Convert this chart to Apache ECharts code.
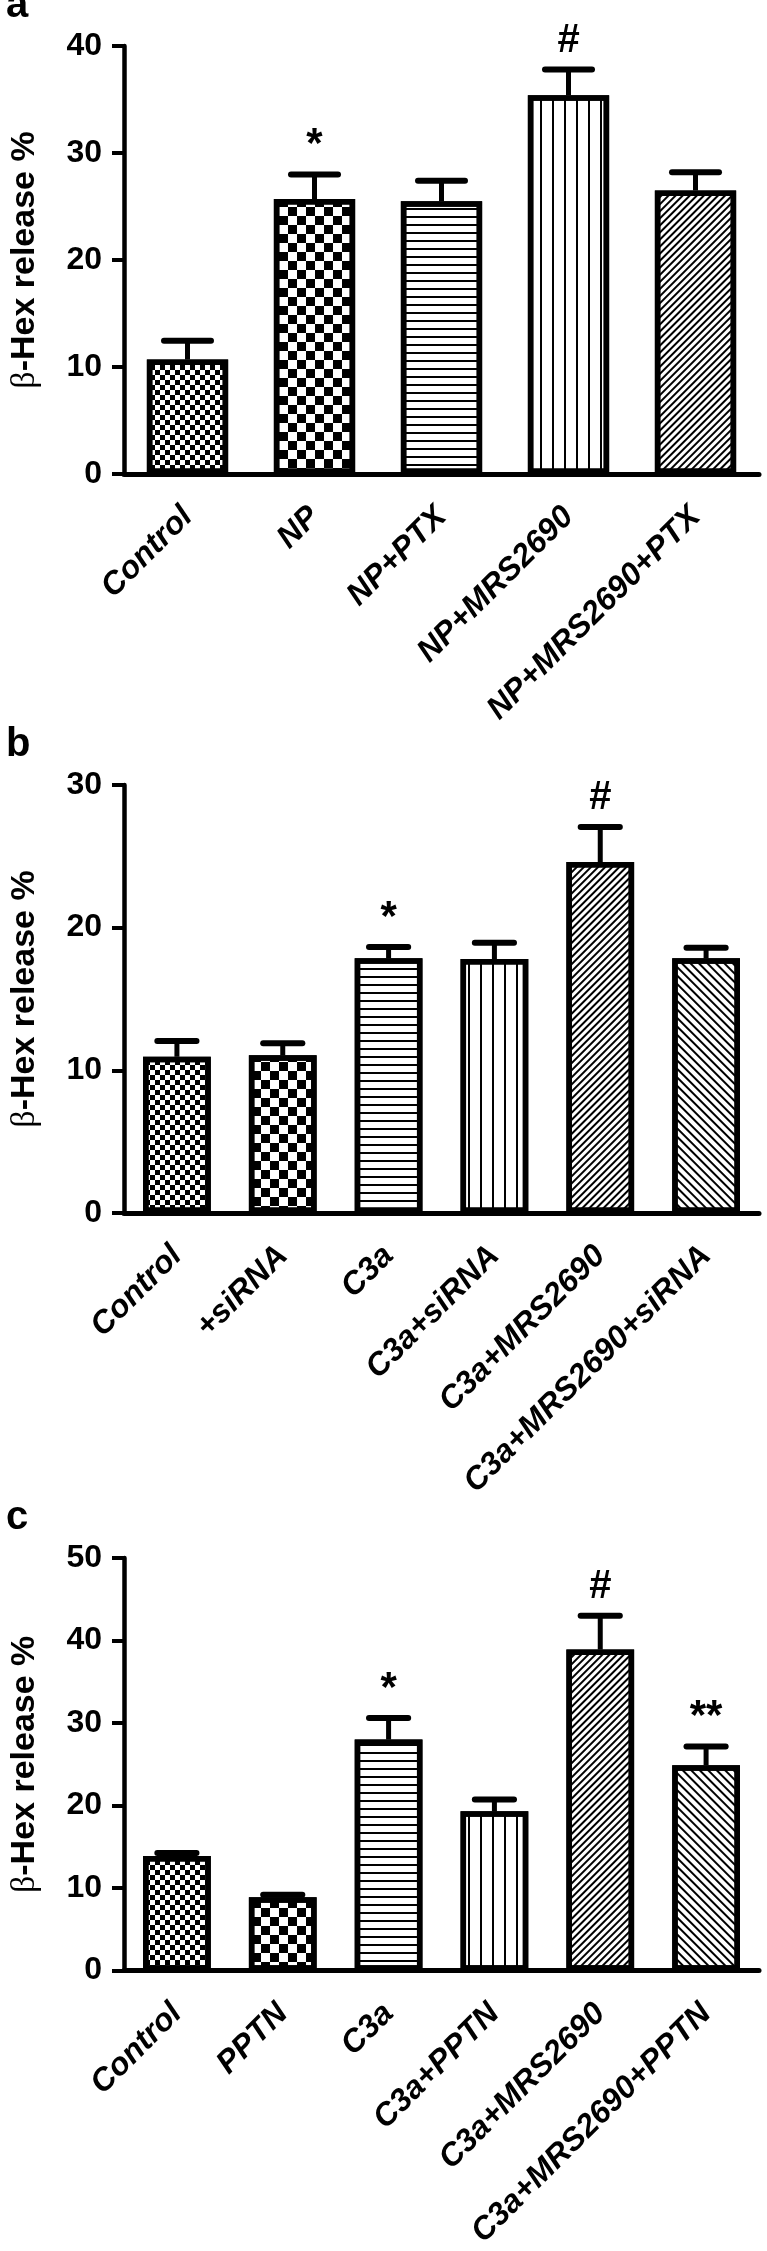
<!DOCTYPE html>
<html>
<head>
<meta charset="utf-8">
<title>beta-Hex release</title>
<script src="https://cdn.jsdelivr.net/npm/echarts@6/dist/echarts.min.js"></script>
<style>
  html, body { margin: 0; padding: 0; background: #fff; }
  #chart { width: 767px; height: 2251px; }
</style>
</head>
<body>
<div id="chart"></div>
<script>
// panel a
const categoriesA = ["Control", "NP", "NP+PTX", "NP+MRS2690", "NP+MRS2690+PTX"];
const meansA = [10.7, 25.7, 25.5, 35.4, 26.5];
const errorsA = [1.75, 2.3, 1.9, 2.4, 1.7];
const marksA = ["", "*", "", "#", ""];
const patternsA = ["fineCheck", "check", "hLines", "vLines", "diagUp"];
const ticksA = [0, 10, 20, 30, 40];

// panel b
const categoriesB = ["Control", "+siRNA", "C3a", "C3a+siRNA", "C3a+MRS2690", "C3a+MRS2690+siRNA"];
const meansB = [10.95, 11.05, 17.85, 17.8, 24.6, 17.85];
const errorsB = [1.1, 0.85, 0.8, 1.15, 2.45, 0.75];
const marksB = ["", "", "*", "", "#", ""];
const patternsB = ["fineCheck", "check", "hLines", "vLines", "diagUp", "diagDown"];
const ticksB = [0, 10, 20, 30];

// panel c
const categoriesC = ["Control", "PPTN", "C3a", "C3a+PPTN", "C3a+MRS2690", "C3a+MRS2690+PPTN"];
const meansC = [13.9, 8.9, 28.0, 19.3, 38.9, 24.9];
const errorsC = [0.35, 0.3, 2.6, 1.45, 4.1, 2.25];
const marksC = ["", "", "*", "", "#", "**"];
const patternsC = ["fineCheck", "check", "hLines", "vLines", "diagUp", "diagDown"];
const ticksC = [0, 10, 20, 30, 40, 50];

const FONT = '"Liberation Sans", Arial, sans-serif';

// fill patterns, drawn as ECharts decals
const decals = {
  fineCheck: { symbol: "rect", symbolSize: 1, dashArrayX: [[5, 5], [0, 5, 5, 0]], dashArrayY: [5, 0], color: "#000" },
  check: { symbol: "rect", symbolSize: 1, dashArrayX: [[9, 9], [0, 9, 9, 0]], dashArrayY: [9, 0], color: "#000" },
  hLines: { symbol: "rect", symbolSize: 1, dashArrayX: [[1, 0]], dashArrayY: [2, 6], color: "#000" },
  vLines: { symbol: "rect", symbolSize: 1, dashArrayX: [[2, 10]], dashArrayY: [1, 0], color: "#000" },
  diagUp: { symbol: "rect", symbolSize: 1, dashArrayX: [[1, 0]], dashArrayY: [2, 3], rotation: -Math.PI / 4, color: "#000" },
  diagDown: { symbol: "rect", symbolSize: 1, dashArrayX: [[1, 0]], dashArrayY: [2, 4], rotation: Math.PI / 4, color: "#000" }
};

const panels = [
  { cats: categoriesA, means: meansA, errs: errorsA, marks: marksA, pats: patternsA, ticks: ticksA, top: 46, letter: "a" },
  { cats: categoriesB, means: meansB, errs: errorsB, marks: marksB, pats: patternsB, ticks: ticksB, top: 785, letter: "b" },
  { cats: categoriesC, means: meansC, errs: errorsC, marks: marksC, pats: patternsC, ticks: ticksC, top: 1558, letter: "c" }
];

const chart = echarts.init(document.getElementById("chart"));

const grid = [];
const xAxis = [];
const yAxis = [];
const series = [];
const graphic = [];

panels.forEach((p, gi) => {
  grid.push({ left: 115, right: 8, top: p.top, height: 428 });

  xAxis.push({
    type: "category",
    gridIndex: gi,
    data: p.cats,
    axisLine: { lineStyle: { color: "#000", width: 5 } },
    axisTick: { alignWithLabel: true, length: 13, lineStyle: { color: "#000", width: 4 } },
    axisLabel: {
      interval: 0,
      rotate: 45,
      margin: 38,
      color: "#000",
      fontSize: 32,
      fontWeight: "bold",
      fontStyle: "italic",
      fontFamily: FONT
    }
  });

  yAxis.push({
    type: "value",
    gridIndex: gi,
    min: p.ticks[0],
    max: p.ticks[p.ticks.length - 1],
    interval: p.ticks[1] - p.ticks[0],
    name: "{g|β}-Hex release %",
    nameLocation: "middle",
    nameGap: 82,
    nameTextStyle: {
      color: "#000",
      fontSize: 34,
      fontWeight: "bold",
      fontFamily: FONT,
      rich: {
        g: { fontSize: 34, fontWeight: "normal", fontFamily: '"Liberation Serif", serif', color: "#000" }
      }
    },
    axisLine: { show: true, lineStyle: { color: "#000", width: 4.5 } },
    axisTick: { show: true, length: 12, lineStyle: { color: "#000", width: 4 } },
    splitLine: { show: false },
    axisLabel: { color: "#000", fontSize: 32, fontWeight: "bold", fontFamily: FONT, margin: 22 }
  });

  series.push({
    type: "bar",
    xAxisIndex: gi,
    yAxisIndex: gi,
    barWidth: "64%",
    silent: true,
    itemStyle: { color: "#fff", borderColor: "#000", borderWidth: 5.5 },
    data: p.means.map((v, i) => ({
      value: v,
      itemStyle: { decal: Object.assign({}, decals[p.pats[i]]) }
    }))
  });

  series.push({
    type: "custom",
    xAxisIndex: gi,
    yAxisIndex: gi,
    silent: true,
    z: 3,
    encode: { x: 0, y: [1, 2] },
    data: p.means.map((v, i) => [i, v, v + p.errs[i]]),
    renderItem: (params, api) => {
      const idx = api.value(0);
      const base = api.coord([idx, api.value(1)]);
      const top = api.coord([idx, api.value(2)]);
      const half = api.size([1, 0])[0] * 0.185;
      const children = [
        { type: "line", shape: { x1: base[0], y1: base[1], x2: top[0], y2: top[1] }, style: { stroke: "#000", lineWidth: 5 } },
        { type: "line", shape: { x1: top[0] - half, y1: top[1], x2: top[0] + half, y2: top[1] }, style: { stroke: "#000", lineWidth: 6, lineCap: "round" } }
      ];
      const mark = p.marks[params.dataIndex];
      if (mark) {
        children.push({
          type: "text",
          x: top[0],
          y: top[1] - 29,
          style: {
            text: mark,
            fill: "#000",
            fontSize: mark === "#" ? 40 : 42,
            fontWeight: "bold",
            fontFamily: FONT,
            align: "center",
            verticalAlign: "middle"
          }
        });
      }
      return { type: "group", children };
    }
  });

  graphic.push({
    type: "text",
    left: 6,
    top: p.top - 60,
    style: { text: p.letter, fill: "#000", fontSize: 40, fontWeight: "bold", fontFamily: FONT }
  });
});

chart.setOption({
  animation: false,
  backgroundColor: "#fff",
  grid,
  xAxis,
  yAxis,
  series,
  graphic
});
</script>
</body>
</html>
